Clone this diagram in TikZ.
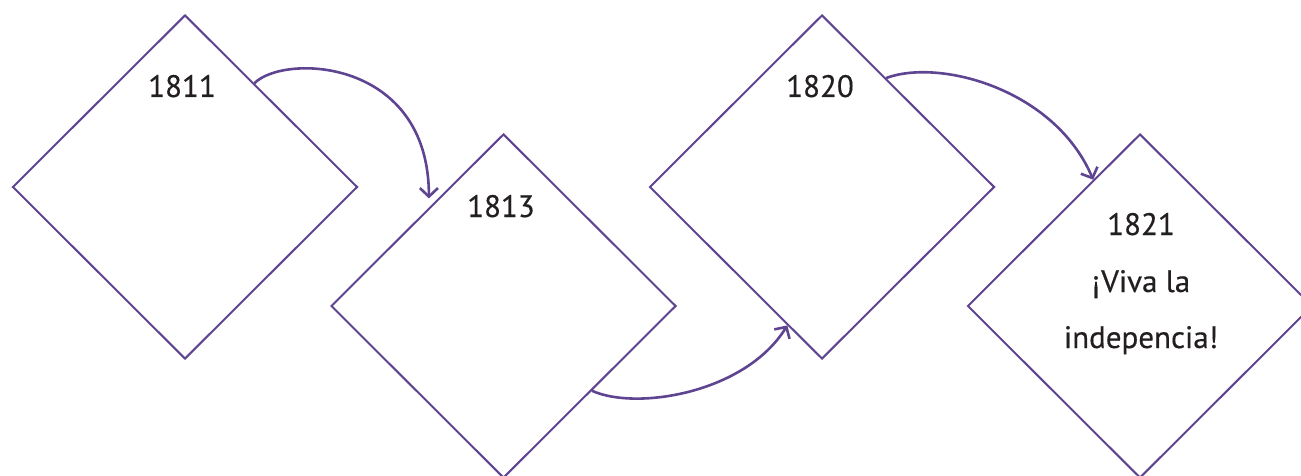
\documentclass[tikz,border=0pt]{standalone}
\usepackage{fontspec}
\setmainfont{PT Sans}[FakeBold=0.4]
\usetikzlibrary{shapes.geometric,arrows.meta,calc}
\definecolor{vio}{RGB}{94,68,145}
\definecolor{ink}{RGB}{35,31,32}
\tikzset{
  dia/.style={draw=vio, line width=2pt, shape=diamond, inner sep=0pt,
    minimum width=345pt, minimum height=344pt},
  yr/.style={text=ink, anchor=base, inner sep=0pt, font=\fontsize{31}{37}\selectfont},
  flow/.style={draw=vio, line width=2.6pt,
    -{Straight Barb[length=8.5pt,width=18pt,line width=2.6pt]}}
}
\begin{document}
\begin{tikzpicture}[x=1pt,y=-1pt]
\useasboundingbox (0,0) rectangle (1301,476);
\node[dia] (d1) at (185,187) {};
\node[dia] (d2) at (503.5,306) {};
\node[dia] (d3) at (822,187) {};
\node[dia] (d4) at (1140,306) {};

\node[yr] (t1) at (182,97) {1811};
\node[yr] (t2) at (501,217) {1813};
\node[yr] (t3) at (820,97) {1820};
\node[yr] (t4a) at (1141,235) {1821};
\node[yr] (t4b) at (1141,292) {¡Viva la};
\node[yr] (t4c) at (1141,348) {indepencia!};

\coordinate (s1) at ($(d1.north)!0.4!(d1.east)$);
\coordinate (e1) at ($(d2.north)!0.43!(d2.west)+(0,-9)$);
\coordinate (s2) at ($(d2.east)!0.49!(d2.south)$);
\coordinate (e2) at ($(d3.west)!0.8!(d3.south)$);
\coordinate (s3) at ($(d3.north)!0.37!(d3.east)$);
\coordinate (e3) at ($(d4.north)!0.27!(d4.west)$);

\draw[flow] (s1) .. controls +(30,-30) and +(0,-140) .. (e1);
\draw[flow] (s2) .. controls +(44,20) and +(-42,68) .. (e2);
\draw[flow] (s3) .. controls +(54,-20) and +(-38,-90) .. (e3);
\end{tikzpicture}
\end{document}
